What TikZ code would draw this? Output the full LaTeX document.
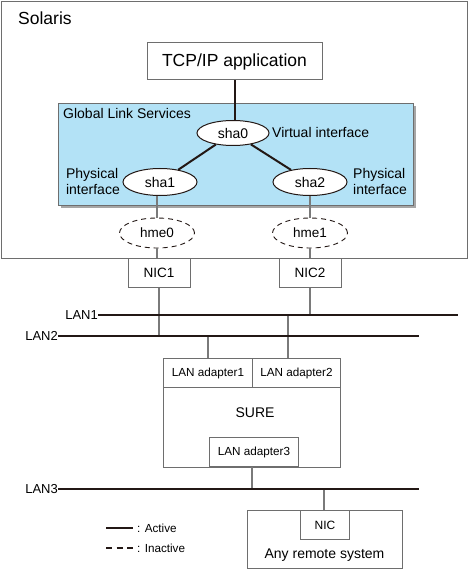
\documentclass[tikz,border=0pt]{standalone}
\usepackage{fontspec}
\setmainfont{Liberation Sans}
\usetikzlibrary{shapes.geometric}
\definecolor{gls}{HTML}{B3E2F6}
\definecolor{frame}{HTML}{6E6E6E}
\definecolor{thin}{HTML}{7A7A7A}
\definecolor{thick}{HTML}{231815}
\tikzset{
  boxs/.style={draw=frame, line width=1pt, fill=white, inner sep=0pt},
  ell/.style={ellipse, draw=thick, line width=1pt, fill=white, inner sep=0pt, font=\fontsize{14}{16}\selectfont},
  dell/.style={ellipse, draw=thick, line width=0.9pt, dash pattern=on 5pt off 4pt, inner sep=0pt, font=\fontsize{13.5}{16}\selectfont},
  thinln/.style={draw=thin, line width=1.3pt},
  thickln/.style={draw=thick, line width=2.5pt},
  lbl/.style={inner sep=0pt, font=\fontsize{14}{16}\selectfont},
  slbl/.style={inner sep=0pt, font=\fontsize{11.7}{14}\selectfont},
}
\begin{document}
\begin{tikzpicture}[x=1pt,y=-1pt]
\useasboundingbox (0,0) rectangle (469,569);
% Solaris frame
\node[boxs, anchor=north west, minimum width=466pt, minimum height=257pt] (sol) at (1,1) {};
\node[lbl, anchor=west, font=\fontsize{17.5}{20}\selectfont] (soltxt) at (18,18) {Solaris};
% TCP/IP
\node[boxs, minimum width=175pt, minimum height=37pt, font=\fontsize{17.5}{20}\selectfont] (tcp) at (234.5,61.5) {TCP/IP application};
% GLS shadow and box
\fill[gray!70] (61,106) rectangle (416,208);
\node[draw=frame, line width=1pt, fill=gls, anchor=north west, minimum width=355pt, minimum height=102pt, inner sep=0pt] (glsbox) at (58,103) {};
\node[lbl, anchor=west] (glstxt) at (63,113) {Global Link Services};
% interfaces
\node[ell, minimum width=72pt, minimum height=25pt] (sha0) at (233,133) {sha0};
\node[ell, minimum width=74pt, minimum height=27pt] (sha1) at (160,182) {sha1};
\node[ell, minimum width=74pt, minimum height=27pt] (sha2) at (310,182) {sha2};
\node[lbl, anchor=west] (vi) at (272,132) {Virtual interface};
\node[lbl, anchor=east, align=left] (pi1) at (120,181) {Physical\\interface};
\node[lbl, anchor=west, align=left] (pi2) at (353,181) {Physical\\interface};
\draw[thickln, line width=2pt] (tcp.south) -- (tcp.south |- sha0.north);
\draw[thickln, line width=2pt] (sha0) -- (sha1);
\draw[thickln, line width=2pt] (sha0) -- (sha2);
% hme
\node[dell, minimum width=75pt, minimum height=30pt] (hme0) at (157,233) {hme0};
\node[dell, minimum width=75pt, minimum height=30pt] (hme1) at (310,233) {hme1};
\draw[thinln] (sha1.south -| hme0.north) -- (hme0.north);
\draw[thinln] (sha2.south -| hme1.north) -- (hme1.north);
% NICs
\node[boxs, minimum width=62pt, minimum height=29pt, font=\fontsize{13.5}{16}\selectfont] (nic1) at (159,272.5) {NIC1};
\node[boxs, minimum width=62pt, minimum height=29pt, font=\fontsize{13.5}{16}\selectfont] (nic2) at (310,272.5) {NIC2};
\draw[thinln] (hme0.south) -- (hme0.south |- nic1.north);
\draw[thinln] (hme1.south) -- (hme1.south |- nic2.north);
% LANs
\coordinate (lan1a) at (98,315);
\coordinate (lan1b) at (458,315);
\coordinate (lan2a) at (58,336);
\coordinate (lan2b) at (419,336);
\coordinate (lan3a) at (58,489);
\coordinate (lan3b) at (419,489);
\node[lbl, anchor=east, font=\fontsize{13}{16}\selectfont] (lan1t) at (lan1a) {LAN1};
\node[lbl, anchor=east, font=\fontsize{13}{16}\selectfont] (lan2t) at (lan2a) {LAN2};
\node[lbl, anchor=east, font=\fontsize{13}{16}\selectfont] (lan3t) at (lan3a) {LAN3};
% SURE
\node[boxs, anchor=north west, minimum width=177pt, minimum height=109pt] (sure) at (163,358) {};
\node[lbl, font=\fontsize{14}{16}\selectfont] (suretxt) at (255,413) {SURE};
\node[boxs, anchor=north west, minimum width=89pt, minimum height=29pt, font=\fontsize{11.7}{14}\selectfont] (ad1) at (163,358) {LAN adapter1};
\node[boxs, anchor=north west, minimum width=88pt, minimum height=29pt, font=\fontsize{11.7}{14}\selectfont] (ad2) at (252,358) {LAN adapter2};
\node[boxs, anchor=north west, minimum width=89pt, minimum height=29pt, font=\fontsize{11.7}{14}\selectfont] (ad3) at (209,437) {LAN adapter3};
% remote
\node[boxs, anchor=north west, minimum width=155pt, minimum height=58pt] (rem) at (247,510) {};
\node[boxs, anchor=north west, minimum width=49pt, minimum height=29pt, font=\fontsize{12}{14}\selectfont] (nic) at (300,510) {NIC};
\node[lbl] (remtxt) at (324.5,555) {Any remote system};
% vertical connectors
\draw[thinln] (nic1.south) -- (nic1.south |- lan2a);
\draw[thinln] (nic2.south) -- (nic2.south |- lan1a);
\draw[thinln] (ad1.north -| 208,0) -- (208,336);
\draw[thinln] (ad2.north -| 288,0) -- (288,315);
\draw[thinln] (ad3.south -| 252,0) -- (252,489);
\draw[thinln] (nic.north -| 324,0) -- (324,489);
% LAN lines on top
\draw[thickln] (lan1a) -- (lan1b);
\draw[thickln] (lan2a) -- (lan2b);
\draw[thickln] (lan3a) -- (lan3b);
% legend
\coordinate (la1) at (106,528);
\coordinate (la2) at (133,528);
\coordinate (li1) at (106,548);
\coordinate (li2) at (133,548);
\draw[draw=thick, line width=1.8pt] (la1) -- (la2);
\draw[draw=thick, line width=1.8pt, dash pattern=on 6pt off 4.5pt] (li1) -- (li2);
\node[slbl, anchor=west] (act) at (137,528) {: Active};
\node[slbl, anchor=west] (inact) at (137,548) {: Inactive};
\end{tikzpicture}
\end{document}
